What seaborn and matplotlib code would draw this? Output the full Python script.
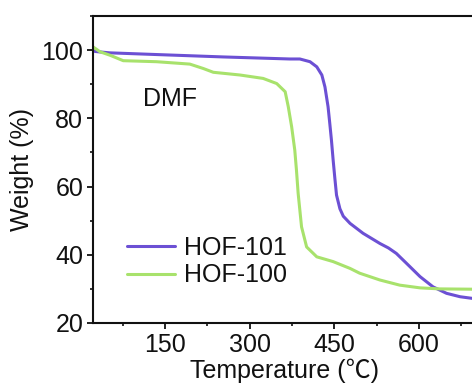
import numpy as np
import pandas as pd
import seaborn as sns
import matplotlib
matplotlib.use("Agg")
import matplotlib.pyplot as plt
from matplotlib.ticker import MultipleLocator

# HOF-101 (purple)
t101 = [22, 26, 52, 135, 253, 371, 389, 407, 419, 428, 433.5, 439, 442, 445, 448, 451, 454,
        460, 466, 478, 501, 531, 546, 560, 578, 602, 625, 649, 673, 700]
w101 = [100, 99.6, 99.2, 98.7, 98.0, 97.4, 97.4, 96.6, 95.1, 92.7, 89.2, 83.4, 78.6, 73.6, 67.8, 62.5, 57.5,
        53.5, 51.3, 49.2, 46.3, 43.3, 42.0, 40.4, 37.5, 33.6, 30.6, 28.7, 27.7, 27.1]

# HOF-100 (green)
t100 = [22, 35, 52.5, 76, 135, 194, 218, 235.6, 283, 324, 348, 363, 368.5, 374.5, 380, 383, 386,
        392, 401, 419, 448, 478, 495, 531, 566, 602, 637, 700]
w100 = [101, 99.5, 98.5, 96.9, 96.6, 95.9, 94.6, 93.5, 92.7, 91.7, 90.2, 87.8, 83.4, 77.5, 70.7, 64.8, 58.0,
        48.2, 42.3, 39.4, 38.0, 36.0, 34.6, 32.6, 31.1, 30.3, 30.0, 29.9]

labels = ["HOF-101", "HOF-100"]
colors = ["#6c50d4", "#a8e26c"]

df = pd.concat([
    pd.DataFrame({"T": t101, "W": w101, "sample": labels[0]}),
    pd.DataFrame({"T": t100, "W": w100, "sample": labels[1]}),
])

sns.set_style("ticks")
plt.rcParams['font.family'] = ['Liberation Sans', 'Noto Sans CJK SC', 'DejaVu Sans']
plt.rcParams['text.color'] = '#111111'
plt.rcParams['axes.labelcolor'] = '#111111'
plt.rcParams['xtick.color'] = '#111111'
plt.rcParams['ytick.color'] = '#111111'

fig = plt.figure(figsize=(4.72, 3.90), dpi=100)
ax = fig.add_axes([93/472, 67/390, 0.810, 307/390])

sns.lineplot(data=df, x="T", y="W", hue="sample", palette=colors,
             hue_order=labels, linewidth=2.2, ax=ax, sort=False, estimator=None)

ax.set_xlim(22.4, 700)
ax.set_ylim(20, 110)
ax.xaxis.set_major_locator(MultipleLocator(150))
ax.xaxis.set_minor_locator(MultipleLocator(75))
ax.yaxis.set_major_locator(MultipleLocator(20))
ax.yaxis.set_minor_locator(MultipleLocator(10))
ax.tick_params(which='major', direction='out', length=4, width=1.3, labelsize=18, pad=3)
ax.tick_params(which='minor', direction='out', length=2.5, width=1.2)
for s in ax.spines.values():
    s.set_linewidth(1.5)
    s.set_color('#111111')

ax.set_xlabel("Temperature (℃)", fontsize=18, labelpad=1)
ax.set_ylabel("Weight (%)", fontsize=18, labelpad=5)
ax.text(0.13, 0.73, "DMF", transform=ax.transAxes, fontsize=18, ha='left', va='center')

leg = ax.legend(loc='upper left', bbox_to_anchor=(0.09, 0.285), frameon=False,
                fontsize=18, handlelength=1.9, handletextpad=0.35,
                labelspacing=0.15, borderpad=0, borderaxespad=0)
for line in leg.get_lines():
    line.set_linewidth(2.2)

fig.savefig("out.png", dpi=100)
